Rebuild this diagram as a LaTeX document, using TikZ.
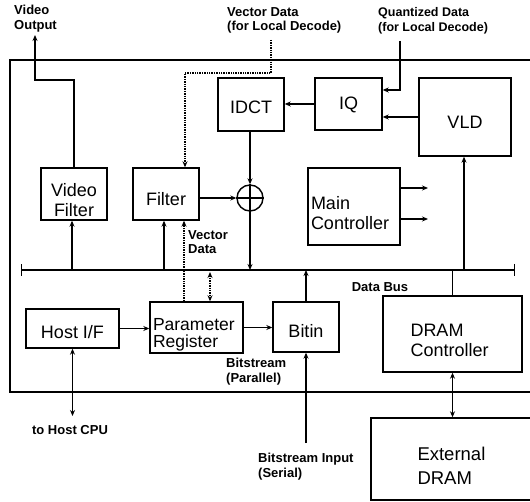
\documentclass[tikz,border=0pt]{standalone}
\usepackage{fontspec}
\setmainfont{Liberation Sans}
\usetikzlibrary{arrows.meta}
\newcommand{\lowtext}[2]{\raisebox{-#1}[\height][\depth]{#2}}
\begin{document}
\begin{tikzpicture}[x=1pt,y=-1pt,
  box/.style={draw, line width=1.4pt, inner sep=0pt, font=\fontsize{18}{20}\selectfont, align=center},
  lab/.style={font=\bfseries\fontsize{13}{14.5}\selectfont, inner sep=0pt, align=left},
  conn/.style={line width=1.4pt},
  dot/.style={line width=1.4pt, densely dotted},
  >={Stealth[length=6pt,width=5pt]}]
\useasboundingbox (0,0) rectangle (530,502);
\clip (0,0) rectangle (530,502);
% chip outline
\draw[line width=1.6pt] (540,60) -- (10,60) -- (10,392) -- (540,392);
% boxes
\node[box, minimum width=66pt, minimum height=52pt] (videofilter) at (74,194) {\lowtext{6pt}{\parbox{60pt}{\centering Video\\Filter}}};
\node[box, minimum width=66pt, minimum height=52pt] (filter) at (166,194) {\lowtext{5pt}{Filter}};
\node[draw, circle, line width=1.4pt, minimum size=26pt, inner sep=0pt] (adder) at (250,198) {};
\draw[line width=1.4pt] (adder.north) -- (adder.south) (adder.west) -- (adder.east);
\node[box, minimum width=66pt, minimum height=53pt] (idct) at (251,104.5) {\lowtext{3pt}{IDCT}};
\node[box, minimum width=67pt, minimum height=52pt] (iq) at (348.5,104) {\lowtext{1pt}{IQ}};
\node[box, minimum width=92pt, minimum height=78pt] (vld) at (465,117) {\lowtext{5pt}{VLD}};
\node[box, minimum width=92pt, minimum height=77pt] (main) at (354,206.5) {\lowtext{7pt}{\parbox{86pt}{Main\\Controller}}};
\node[box, minimum width=93pt, minimum height=39pt] (hostif) at (72.5,328.5) {\lowtext{4pt}{Host I/F}};
\node[box, minimum width=93pt, minimum height=51pt, font=\fontsize{17.5}{17}\selectfont] (param) at (196.5,327.5) {\lowtext{7pt}{\parbox{87pt}{Parameter\\Register}}};
\node[box, minimum width=66pt, minimum height=50pt] (bitin) at (306,327) {\lowtext{4pt}{Bitin}};
\node[box, minimum width=139pt, minimum height=76pt] (dramc) at (452.5,334) {\lowtext{6pt}{\parbox{84pt}{DRAM\\Controller}}};
\node[box, minimum width=163pt, minimum height=82pt, font=\fontsize{18.5}{24}\selectfont] (extdram) at (452.5,459) {\lowtext{7pt}{\parbox{70pt}{External\\DRAM}}};
% labels
\node[lab, anchor=north west] (lvo) at (14,5) {Video\\Output};
\node[lab, anchor=north west] (lvd) at (227,7) {Vector Data\\(for Local Decode)};
\node[lab, anchor=north west, font=\bfseries\fontsize{12.5}{15.5}\selectfont] (lqd) at (378,7) {Quantized Data\\(for Local Decode)};
\node[lab, anchor=north west] (lvd2) at (188,230) {Vector\\Data};
\node[lab, anchor=center] (ldb) at (380,287) {Data Bus};
\node[lab, anchor=north west] (lbp) at (226,358) {Bitstream\\(Parallel)};
\node[lab, anchor=center] (lhc) at (70,430) {to Host CPU};
\node[lab, anchor=north west] (lbs) at (258,453) {Bitstream Input\\(Serial)};
% coordinates
\coordinate (busL) at (21,270);
\coordinate (busR) at (515,270);
\coordinate (vo1) at (74,80);
\coordinate (vo2) at (35,80);
\coordinate (votop) at (35,35);
\coordinate (vdtop) at (271,40);
\coordinate (vdturn) at (185,73);
\coordinate (qdtop) at (400,41);
\coordinate (qdturn) at (400,90);
\coordinate (mc1) at (428,188);
\coordinate (mc2) at (428,219);
\coordinate (hostcpu) at (72.5,416);
\coordinate (bsin) at (306,443);
\coordinate (pbus) at (210,272);
% data bus
\draw[conn, {Bar[width=12pt]}-{Bar[width=12pt]}] (busL) -- (busR);
% connectors
\draw[conn, ->] (videofilter.north) -- (vo1) -- (vo2) -- (votop);
\draw[dot, ->] (vdtop) |- (vdturn) -- (vdturn |- filter.north);
\draw[conn, ->] (qdtop) -- (qdturn) -- (qdturn -| iq.east);
\draw[conn, ->] (vld.west) -- (vld.west -| iq.east);
\draw[conn, ->] (iq.west) -- (iq.west -| idct.east);
\draw[conn, ->] (adder.north |- idct.south) -- (adder.north);
\draw[conn, ->] (adder.west -| filter.east) -- (adder.west);
\draw[conn, ->] (adder.south) -- (adder.south |- busL);
\draw[conn, ->] (mc1 -| main.east) -- (mc1);
\draw[conn, ->] (mc2 -| main.east) -- (mc2);
\draw[conn, ->] (72,270) -- (72,270 |- videofilter.south);
\draw[conn, ->] (164,270) -- (164,270 |- filter.south);
\draw[dot, ->] (184,270 |- param.north) -- (184,270 |- filter.south);
\draw[dot, <->] (pbus) -- (pbus |- param.north);
\draw[conn, ->] (bitin.north) -- (bitin.north |- busL);
\draw[conn, ->] (464,270) -- (464,270 |- vld.south);
\draw[conn] (dramc.north |- busL) -- (dramc.north);
\draw[conn, ->] (hostif.east) -- (hostif.east -| param.west);
\draw[conn, ->] (param.east) -- (param.east -| bitin.west);
\draw[conn, <->] (hostif.south) -- (hostcpu);
\draw[conn, ->] (bsin) -- (bitin.south);
\draw[conn, <->] (dramc.south) -- (dramc.south |- extdram.north);
\end{tikzpicture}
\end{document}
